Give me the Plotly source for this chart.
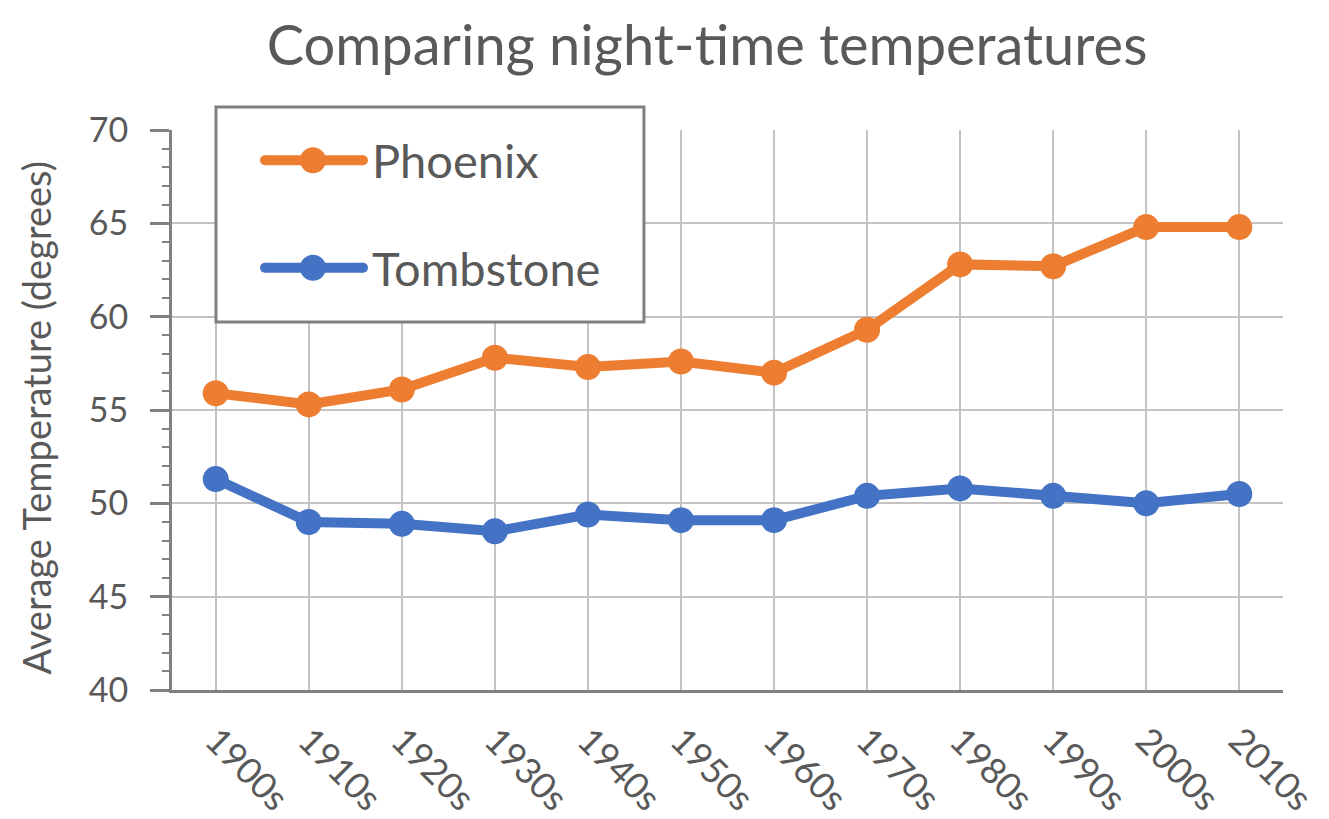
import plotly.graph_objects as go

decades = ["1900s", "1910s", "1920s", "1930s", "1940s", "1950s",
           "1960s", "1970s", "1980s", "1990s", "2000s", "2010s"]
phoenix = [55.9, 55.3, 56.1, 57.8, 57.3, 57.6, 57.0, 59.3, 62.8, 62.7, 64.8, 64.8]
tombstone = [51.3, 49.0, 48.9, 48.5, 49.4, 49.1, 49.1, 50.4, 50.8, 50.4, 50.0, 50.5]
series_names = ["Phoenix", "Tombstone"]

ORANGE = "#ED7D31"
BLUE = "#4472C4"
TXT = "#595959"
AX = "#808080"
GRID = "#c3c3c3"
FONT = "Lato"

fig = go.Figure()
for name, vals, col in [(series_names[0], phoenix, ORANGE), (series_names[1], tombstone, BLUE)]:
    fig.add_trace(go.Scatter(x=decades, y=vals, name=name, mode="lines+markers",
                             line=dict(color=col, width=10),
                             marker=dict(color=col, size=26),
                             showlegend=False))

# Excel-style legend box with long symbol lines
shapes = [dict(type="rect", xref="paper", yref="paper", x0=0.0396, x1=0.4248,
               y0=0.657, y1=1.041, line=dict(color=AX, width=3), fillcolor="white",
               layer="above")]
annotations = []
for name, col, ly in [(series_names[0], ORANGE, 0.946), (series_names[1], BLUE, 0.754)]:
    shapes.append(dict(type="line", xref="paper", yref="paper", x0=0.0837, x1=0.1719,
                       y0=ly, y1=ly, line=dict(color=col, width=10), layer="above"))
    for cx in (0.0837, 0.1719):
        shapes.append(dict(type="circle", xref="paper", yref="paper",
                           xsizemode="pixel", ysizemode="pixel",
                           xanchor=cx, yanchor=ly, x0=-5, x1=5, y0=-5, y1=5,
                           line=dict(color=col, width=0), fillcolor=col, layer="above"))
    shapes.append(dict(type="circle", xref="paper", yref="paper",
                       xsizemode="pixel", ysizemode="pixel",
                       xanchor=0.1269, yanchor=ly, x0=-13, x1=13, y0=-13, y1=13,
                       line=dict(color=col, width=0), fillcolor=col, layer="above"))
    annotations.append(dict(text=name, xref="paper", yref="paper", x=0.178, y=ly,
                            xanchor="left", yanchor="middle", showarrow=False,
                            font=dict(size=47, color=TXT, family=FONT)))

# y-axis title placed like Excel's (further from tick labels than Plotly allows)
annotations.append(dict(text="Average Temperature (degrees)", textangle=-90,
                        xref="paper", yref="paper", x=-0.1224, y=0.485,
                        xanchor="center", yanchor="middle", showarrow=False,
                        font=dict(size=38, color=TXT, family=FONT)))

fig.update_layout(
    width=1329, height=819,
    margin=dict(l=164, r=54, t=122, b=137, autoexpand=False),
    paper_bgcolor="white", plot_bgcolor="white",
    font=dict(family=FONT, color=TXT),
    title=dict(text="Comparing night-time temperatures", xref="container", x=0.526,
               xanchor="center", y=0.978, yanchor="top", pad=dict(t=0),
               font=dict(size=56, color=TXT, family=FONT)),
    shapes=shapes, annotations=annotations,
    xaxis=dict(type="category", range=[-0.47, 11.47],
               showgrid=True, gridcolor=GRID, gridwidth=2,
               showline=True, linecolor=AX, linewidth=3,
               ticks="", tickangle=45, automargin=False, ticklabelstandoff=12,
               tickfont=dict(size=36, color=TXT, family=FONT)),
    yaxis=dict(range=[40, 70], dtick=5, tick0=40, automargin=False,
               showgrid=True, gridcolor=GRID, gridwidth=2,
               showline=True, linecolor=AX, linewidth=3,
               ticks="outside", ticklen=19, tickwidth=3, tickcolor=AX,
               ticklabelstandoff=15,
               minor=dict(dtick=1, ticks="outside", ticklen=7, tickwidth=2,
                          tickcolor=AX, showgrid=False),
               tickfont=dict(size=34, color=TXT, family=FONT)),
)

fig.write_html("out.html")
